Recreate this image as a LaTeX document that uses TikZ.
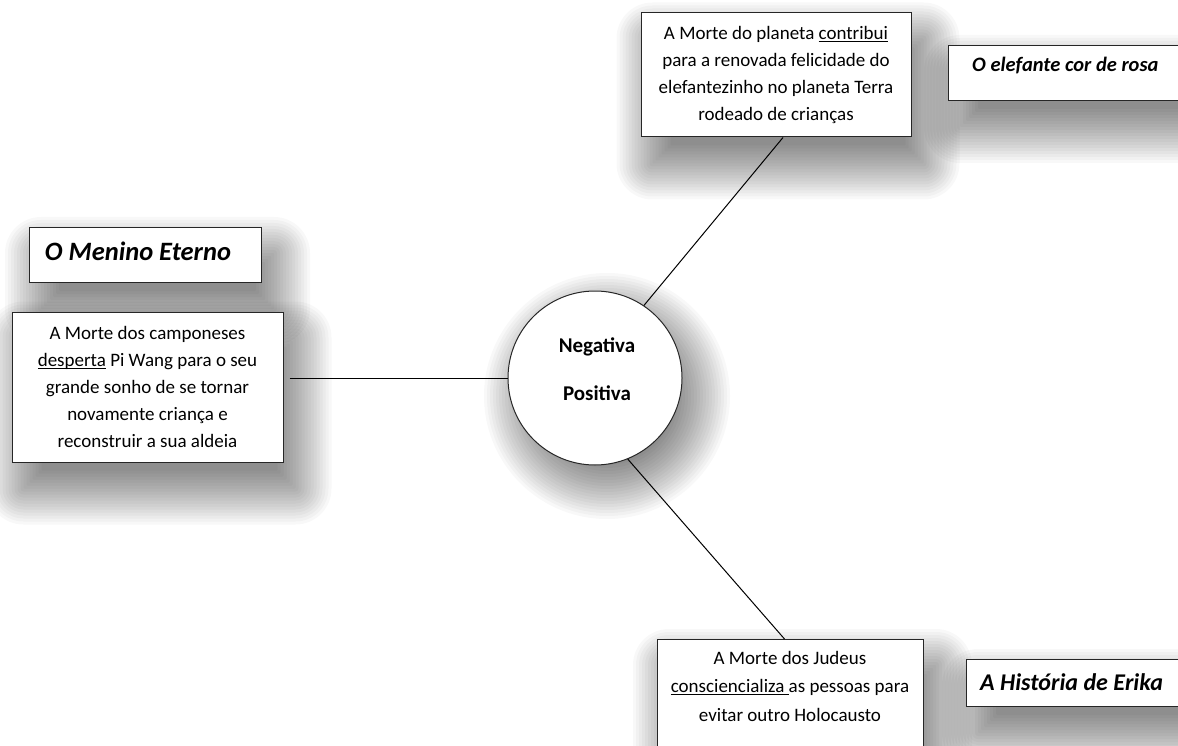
\documentclass[tikz,border=0pt]{standalone}
\usepackage{fontspec}
\setmainfont{Carlito}
\pgfdeclarelayer{shadowlayer}
\pgfsetlayers{shadowlayer,main}
% underline at a fixed depth, running through descenders
\newcommand{\myul}[1]{\setbox0\hbox{#1}\rlap{\rule[-2.4pt]{\wd0}{0.9pt}}\box0\relax}
% soft drop shadow built from stacked, translucent rounded rectangles
\newcommand{\boxshadow}[1]{%
  \foreach \s in {36,33,...,-18}{%
    \pgfmathsetmacro\rr{max(\s,1)}%
    \fill[black, opacity=0.026, rounded corners=\rr pt]
      ([xshift=12pt-\s pt, yshift=-26pt+\s pt]#1.north west) rectangle
      ([xshift=12pt+\s pt, yshift=-26pt-\s pt]#1.south east);
  }}
\newcommand{\roundshadow}[1]{%
  \foreach \s in {36,33,...,-18}{%
    \fill[black, opacity=0.026] ([xshift=12pt, yshift=-18pt]#1.center) circle[radius=87pt+\s pt];
  }}
\tikzset{
  card/.style={draw=black!85, line width=1pt, fill=white, rectangle, inner sep=0pt},
  body/.style={font=\fontsize{19}{27}\selectfont, align=center, inner sep=0pt},
  title/.style={font=\fontsize{#1}{26}\selectfont\bfseries\itshape, inner sep=0pt},
  title/.default=22,
  link/.style={draw=black, line width=1pt},
}
\begin{document}
\begin{tikzpicture}[x=1pt, y=-1pt]
\useasboundingbox (0,0) rectangle (1178,746);
\clip (0,0) rectangle (1178,746);

% centre circle
\node[card, circle, minimum size=174pt] (circ) at (595,378) {};
\node[font=\fontsize{21}{23}\selectfont\bfseries, inner sep=0pt] (neg) at (597,347) {Negativa};
\node[font=\fontsize{21}{23}\selectfont\bfseries, inner sep=0pt] (pos) at (597,393) {Positiva};

% top card
\node[card, minimum width=270pt, minimum height=124pt] (tbox) at (776,75) {};
\node[body] (ttxt) at (776,75) {A Morte do planeta \myul{contribui}\\para a renovada felicidade do\\elefantezinho no planeta Terra\\rodeado de crianças};
\node[card, anchor=north west, minimum width=260pt, minimum height=55pt] (ebox) at (948,45) {};
\node[title=20.5, anchor=west] (etxt) at (972,66) {O elefante cor de rosa};

% left card
\node[card, anchor=north west, minimum width=232pt, minimum height=55pt] (mbox) at (29,227) {};
\node[title=26.5] (mtxt) at (138,251) {O Menino Eterno};
\node[card, minimum width=271pt, minimum height=150pt] (lbox) at (147.5,387) {};
\node[body] (ltxt) at (147.5,387) {A Morte dos camponeses\\\myul{desperta} Pi Wang para o seu\\grande sonho de se tornar\\novamente criança e\\reconstruir a sua aldeia};

% bottom card
\node[card, anchor=north west, minimum width=266pt, minimum height=150pt] (bbox) at (657,639) {};
\node[body, font=\fontsize{19}{28.5}\selectfont, anchor=north] (btxt) at (790,651) {A Morte dos Judeus\\\myul{consciencializa\ }as pessoas para\\evitar outro Holocausto};
\node[card, anchor=north west, minimum width=240pt, minimum height=47pt] (hbox) at (966,659) {};
\node[title=24, anchor=west] (htxt) at (980,682) {A História de Erika};

% connectors
\draw[link] ([xshift=6pt]lbox.east |- circ.west) -- (circ.west);
\draw[link] (circ.56) -- ([xshift=7pt]tbox.south);
\draw[link] (circ.-68) -- ([xshift=-6pt]bbox.north);

% shadows beneath everything
\begin{pgfonlayer}{shadowlayer}
  \fill[white] (0,0) rectangle (1178,746);
  \roundshadow{circ}
  \boxshadow{tbox}
  \boxshadow{ebox}
  \boxshadow{mbox}
  \boxshadow{lbox}
  \boxshadow{bbox}
  \boxshadow{hbox}
\end{pgfonlayer}
\end{tikzpicture}
\end{document}
